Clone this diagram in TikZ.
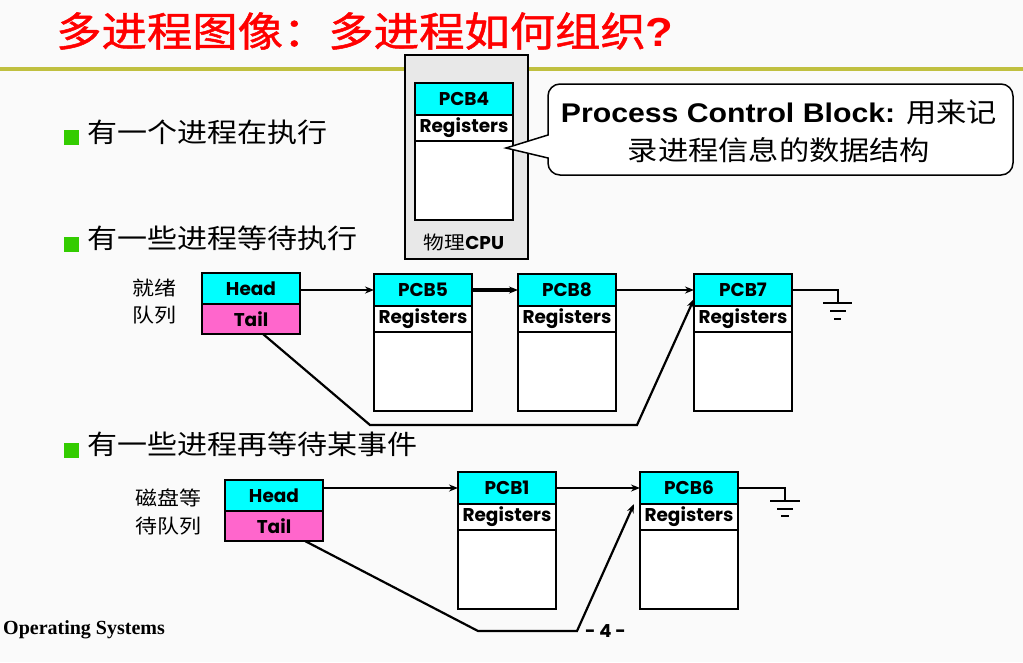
\documentclass[tikz,border=0pt]{standalone}
\usepackage{fontspec}
\setmainfont{Liberation Sans}
\newfontfamily\cjk[FakeStretch=1.12]{Noto Sans CJK SC}
\newfontfamily\cjkt[FakeStretch=1.12,FakeBold=1.2]{Noto Sans CJK SC}
\newfontfamily\arialx[FakeStretch=1.12]{Liberation Sans}
\newfontfamily\gothic{Poppins}
\newfontfamily\timesf{Liberation Serif}
\usetikzlibrary{arrows.meta}
\definecolor{bg}{RGB}{250,250,250}
\definecolor{cyanc}{RGB}{0,255,255}
\definecolor{pinkc}{RGB}{255,102,204}
\definecolor{olivec}{RGB}{192,192,64}
\definecolor{bulletg}{RGB}{51,204,0}
\definecolor{cpugray}{RGB}{232,232,232}
\definecolor{titlered}{RGB}{255,0,0}
\newcommand\mkpcb[4]{%
  \node[hdr] (#1h) at (#2,#3) {PCB#4};
  \node[regs] (#1r) at (#1h.south west) {Registers};
  \node[pbody] (#1b) at (#1r.south west) {};
}
\begin{document}
\begin{tikzpicture}[x=1pt,y=-1pt,
  cell/.style={draw, line width=2.6pt, inner sep=0pt, outer sep=0pt, anchor=north west, minimum width=98pt,
    font=\gothic\bfseries\fontsize{18.5}{18.5}\selectfont},
  hdr/.style={cell, fill=cyanc, minimum height=32pt},
  regs/.style={cell, fill=white, minimum height=26pt},
  pbody/.style={cell, fill=white, minimum height=79pt},
  headc/.style={cell, fill=cyanc, minimum height=31pt},
  tailc/.style={cell, fill=pinkc, minimum height=30pt},
  link/.style={line width=2.2pt, -{Stealth[length=9pt,width=7pt]}},
  wire/.style={line width=2.2pt},
  gnd/.style={line width=2.8pt},
  bulletsq/.style={fill=bulletg, draw=none, minimum size=15pt, inner sep=0pt, anchor=north west},
  btext/.style={anchor=west, inner sep=0pt, font=\cjk\fontsize{26.8}{27}\selectfont},
  qlabel/.style={anchor=west, inner sep=0pt, align=left, font=\cjk\fontsize{19.6}{27}\selectfont},
]
\fill[bg] (0,0) rectangle (1023,662);
\useasboundingbox (0,0) rectangle (1023,662);

% title and rule
\node[anchor=west, inner sep=0pt, text=titlered, font=\cjkt\fontsize{40.5}{41}\selectfont] (title) at (56,31)
  {多进程图像：多进程如何组织{\arialx\bfseries ?}};
\draw[olivec, line width=4pt] (0,69) -- (1023,69);

% CPU
\node[draw, line width=2pt, fill=cpugray, minimum width=123pt, minimum height=204pt,
  anchor=north west, inner sep=0pt] (cpu) at (404,54) {};
\mkpcb{p4}{415}{83}{4}
\node[inner sep=0pt, font=\cjk\fontsize{18.5}{19}\selectfont] (cpul) at (464,242) {物理{\gothic\fontseries{sb}\selectfont CPU}};

% callout
\coordinate (tip) at ([xshift=-7pt,yshift=-7pt]p4b.north east);
\draw[line width=1.5pt, fill=white] (548,135) [rounded corners=12pt] -- (548,84) -- (1013,84)
  -- (1013,175) -- (548,175) [sharp corners] -- (548,158) -- (tip) -- cycle;
\node[align=center, inner sep=0pt, font=\arialx\bfseries\fontsize{27}{38}\selectfont] (cot) at (779,131)
  {Process Control Block: {\cjk\mdseries 用来记}\\{\cjk\mdseries 录进程信息的数据结构}};

% bullets
\node[bulletsq] (b1) at (64,130) {};
\node[btext] (t1) at (87,132) {有一个进程在执行};
\node[bulletsq] (b2) at (64,237) {};
\node[btext] (t2) at (87,238) {有一些进程等待执行};
\node[bulletsq] (b3) at (64,443) {};
\node[btext] (t3) at (87,444) {有一些进程再等待某事件};

% ready queue
\node[qlabel] (l1) at (132,302) {就绪\\队列};
\node[headc] (rqh) at (202,273) {Head};
\node[tailc] (rqt) at (rqh.south west) {Tail};
\mkpcb{p5}{374}{274}{5}
\mkpcb{p8}{518}{274}{8}
\mkpcb{p7}{694}{274}{7}
\draw[link] (rqh.east |- p5h.west) -- (p5h.west);
\draw[link, line width=3.6pt] (p5h.east) -- (p8h.west);
\draw[link] (p8h.east) -- (p7h.west);
\coordinate (g1) at (838,303);
\draw[wire] (p7h.east) -| (g1);
\draw[gnd] ([xshift=-15pt]g1) -- ([xshift=14pt]g1);
\draw[gnd] ([xshift=-8pt,yshift=-8pt]g1) -- ([xshift=8pt,yshift=-8pt]g1);
\draw[gnd] ([xshift=-4pt,yshift=-16pt]g1) -- ([xshift=3pt,yshift=-16pt]g1);
\coordinate (rt1) at (370,425);
\coordinate (rt2) at (637,425);
\draw[link] ([xshift=12pt]rqt.south) -- (rt1) -- (rt2) -- ([yshift=-9pt]p7h.west);

% disk queue
\node[qlabel, font=\cjk\fontsize{19.6}{28}\selectfont] (l2) at (135,512) {磁盘等\\待队列};
\node[headc] (dqh) at (225,480) {Head};
\node[tailc] (dqt) at (dqh.south west) {Tail};
\mkpcb{p1}{458}{472}{1}
\mkpcb{p6}{640}{472}{6}
\draw[link] (dqh.east |- p1h.west) -- (p1h.west);
\draw[link] (p1h.east) -- (p6h.west);
\coordinate (g2) at (785,501);
\draw[wire] (p6h.east) -| (g2);
\draw[gnd] ([xshift=-15pt]g2) -- ([xshift=15pt]g2);
\draw[gnd] ([xshift=-8pt,yshift=-8pt]g2) -- ([xshift=8pt,yshift=-8pt]g2);
\draw[gnd] ([xshift=-4pt,yshift=-15pt]g2) -- ([xshift=4pt,yshift=-15pt]g2);
\coordinate (dt1) at (478,631);
\coordinate (dt2) at (577,631);
\draw[link] ([xshift=31pt]dqt.south) -- (dt1) -- (dt2) -- ([xshift=-6pt,yshift=-16pt]p6h.west);

% footer
\node[anchor=west, inner sep=0pt, font=\timesf\bfseries\fontsize{20}{20}\selectfont] (os) at (3,630) {Operating Systems};
\node[anchor=west, inner sep=0pt, font=\gothic\bfseries\fontsize{18}{18}\selectfont] (pg) at (585,631) {- 4 -};
\end{tikzpicture}
\end{document}
